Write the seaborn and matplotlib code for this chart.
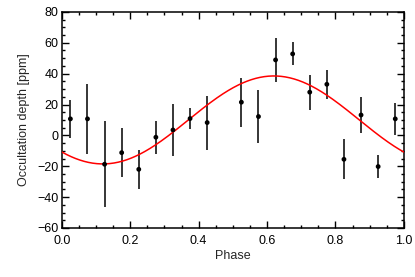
import numpy as np
import pandas as pd
import seaborn as sns
import matplotlib
matplotlib.use('Agg')
import matplotlib.pyplot as plt
from matplotlib.ticker import MultipleLocator

# binned occultation depths
phase = [0.025, 0.075, 0.125, 0.175, 0.225, 0.275, 0.325, 0.375, 0.425,
         0.525, 0.575, 0.625, 0.675, 0.725, 0.775, 0.825, 0.875, 0.925, 0.975]
depth = [10.7, 10.7, -18.7, -11.2, -22.0, -1.2, 3.5, 10.9, 8.3,
         21.5, 12.2, 48.9, 52.8, 28.0, 33.1, -15.5, 13.2, -20.2, 10.7]
err = [12.5, 22.5, 28.0, 16.0, 12.5, 10.7, 17.0, 7.0, 17.5,
       16.0, 17.0, 14.0, 7.5, 11.3, 9.4, 13.0, 11.8, 7.6, 10.5]

# sinusoidal phase-curve model parameters
model_offset = 10.0
model_amp = 28.5
model_peak = 0.62

df = pd.DataFrame({'phase': phase, 'depth': depth, 'err': err})
x_model = np.linspace(0, 1, 400)
df_model = pd.DataFrame({'phase': x_model,
                         'depth': model_offset + model_amp * np.cos(2 * np.pi * (x_model - model_peak))})

sns.set_style('ticks')
plt.rcParams['font.family'] = ['Liberation Sans', 'DejaVu Sans']

fig = plt.figure(figsize=(4.15, 2.77), dpi=100)
ax = fig.add_axes([0.149, 0.177, 0.824, 0.780])

sns.lineplot(x='phase', y='depth', data=df_model, color='red', lw=1.1, ax=ax, zorder=3)
ax.errorbar(df['phase'], df['depth'], yerr=df['err'], fmt='none', ecolor='black', elinewidth=1.1, capsize=0, zorder=2)
sns.scatterplot(x='phase', y='depth', data=df, color='black', s=12, edgecolor='none', ax=ax, zorder=4)

ax.set_xlim(0, 1)
ax.set_ylim(-60, 80)
ax.xaxis.set_major_locator(MultipleLocator(0.2))
ax.xaxis.set_minor_locator(MultipleLocator(0.05))
ax.yaxis.set_major_locator(MultipleLocator(20))
ax.yaxis.set_minor_locator(MultipleLocator(5))
ax.xaxis.set_major_formatter(matplotlib.ticker.FormatStrFormatter('%.1f'))
ax.tick_params(which='both', direction='in', top=True, right=True, width=1, colors='black', labelsize=9)
ax.tick_params(which='major', length=5)
ax.tick_params(axis='x', which='major', pad=5)
ax.tick_params(axis='y', which='major', pad=2.5)
ax.tick_params(which='minor', length=2.5)
for s in ax.spines.values():
    s.set_linewidth(1.1)
    s.set_color('black')

ax.set_xlabel('Phase', fontsize=9, labelpad=2.5)
ax.set_ylabel('Occultation depth [ppm]', fontsize=9, labelpad=5)

fig.savefig('out.png', dpi=100)
